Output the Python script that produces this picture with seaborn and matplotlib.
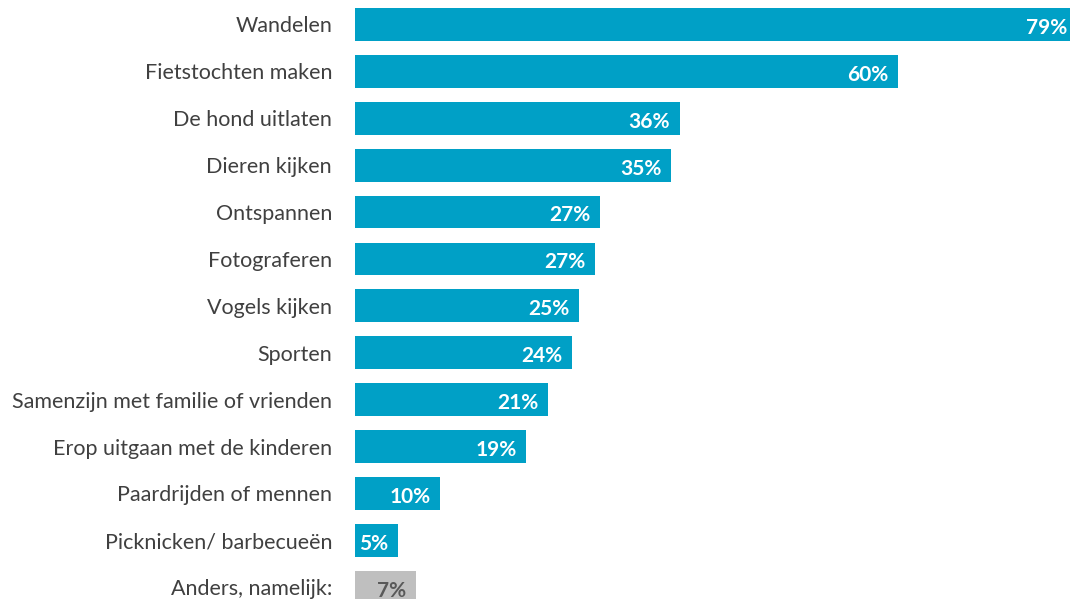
import pandas as pd
import numpy as np
import seaborn as sns
import matplotlib.pyplot as plt

# Data
categories = ["Wandelen", "Fietstochten maken", "De hond uitlaten", "Dieren kijken",
              "Ontspannen", "Fotograferen", "Vogels kijken", "Sporten",
              "Samenzijn met familie of vrienden", "Erop uitgaan met de kinderen",
              "Paardrijden of mennen", "Picknicken/ barbecueën", "Anders, namelijk:"]
values = [79.0, 60.0, 35.9, 34.9, 27.1, 26.5, 24.75, 24.0, 21.3, 18.9, 9.4, 4.75, 6.7]
value_labels = ["79%", "60%", "36%", "35%", "27%", "27%", "25%", "24%",
                "21%", "19%", "10%", "5%", "7%"]

blue = "#00A0C6"
grey = "#BFBFBF"
colors = [blue] * 12 + [grey]

df = pd.DataFrame({"cat": categories, "val": values})

sns.set_style("white")
plt.rcParams['font.family'] = ['Lato', 'DejaVu Sans']

fig = plt.figure(figsize=(10.72, 5.99), dpi=100)
ax = fig.add_axes([355 / 1072, 0, 715 / 1072, 1])

sns.barplot(data=df, x="val", y="cat", hue="cat", palette=colors, legend=False,
            width=0.70, ax=ax, orient="h", edgecolor="none", saturation=1)

ax.set_xlim(0, 79)
ax.set_ylim(12.25, -0.522)
ax.set_xlabel("")
ax.set_ylabel("")
ax.set_xticks([])
sns.despine(ax=ax, left=True, bottom=True)
ax.tick_params(axis="y", length=0, pad=16.5, labelsize=15.5, labelcolor="#404040")

# Labels inside the bars
for i, (v, lab) in enumerate(zip(values, value_labels)):
    col = "#595959" if i == 12 else "white"
    off = -2 if i == 0 else -7
    ax.annotate(lab, (v, i), xytext=(off, -1), textcoords="offset points",
                ha="right", va="center_baseline", color=col, fontsize=15,
                fontweight="bold")

fig.savefig("out.png", dpi=100)
